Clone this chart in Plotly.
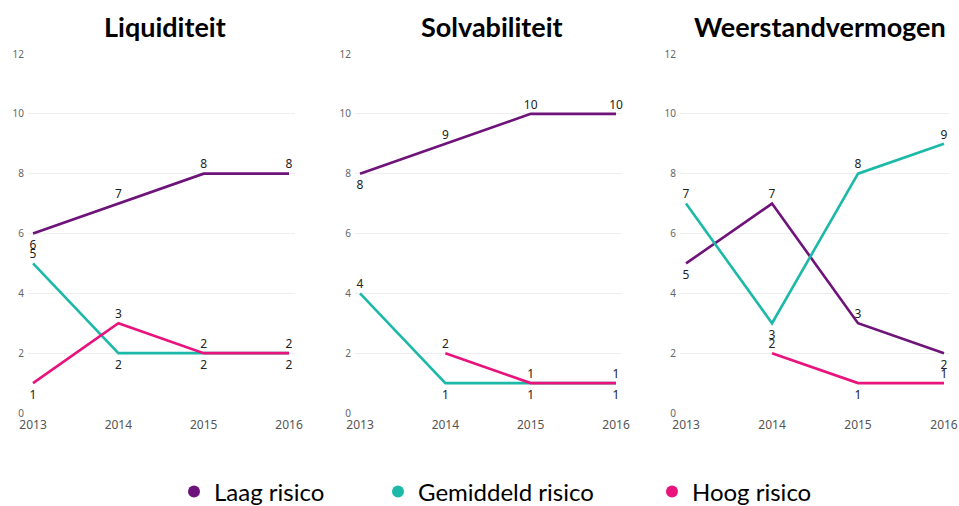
import plotly.graph_objects as go

years = [2013, 2014, 2015, 2016]
series_names = ["Laag risico", "Gemiddeld risico", "Hoog risico"]
panel_titles = ["Liquiditeit", "Solvabiliteit", "Weerstandvermogen"]

liq_laag = [6, 7, 8, 8]
liq_gem = [5, 2, 2, 2]
liq_hoog = [1, 3, 2, 2]

solv_laag = [8, 9, 10, 10]
solv_gem = [4, 1, 1, 1]
solv_hoog = [None, 2, 1, 1]

weer_laag = [5, 7, 3, 2]
weer_gem = [7, 3, 8, 9]
weer_hoog = [None, 2, 1, 1]

y_ticks = [0, 2, 4, 6, 8, 10, 12]

panels = [
    [liq_laag, liq_gem, liq_hoog],
    [solv_laag, solv_gem, solv_hoog],
    [weer_laag, weer_gem, weer_hoog],
]

# label placement (style)
T, B = "top center", "bottom center"
label_pos = [
    [[B, T, T, T], [T, B, B, B], [B, T, T, T]],
    [[B, T, T, T], [T, B, B, B], [T, T, T, T]],
    [[B, T, T, B], [T, B, T, T], [T, T, B, T]],
]

colors = ["#6E1379", "#1CB9A8", "#E8137C"]

W, H = 959, 506
x_px = [(28, 295), (355, 622), (680, 949)]
x_ranges = [(2012.941, 2016.07), (2012.941, 2016.07), (2012.93, 2016.058)]
y_px = (54, 413)
title_cx = [165, 492, 820]

fig = go.Figure()

for p, series in enumerate(panels):
    ax = "" if p == 0 else str(p + 1)
    for s, vals in enumerate(series):
        pos = label_pos[p][s]
        fig.add_trace(go.Scatter(
            x=years, y=vals,
            mode="lines+markers+text",
            text=["" if v is None else str(v) for v in vals],
            textposition=pos,
            textfont=dict(family="Noto Sans", size=12, color="#222222"),
            line=dict(color=colors[s], width=2.6),
            marker=dict(size=[2 if tp == T else 9 for tp in pos],
                        opacity=0, color=colors[s]),
            cliponaxis=False,
            showlegend=False,
            hoverinfo="skip",
            xaxis="x" + ax, yaxis="y" + ax,
        ))
    d = (x_px[p][0] / W, x_px[p][1] / W)
    fig.layout["xaxis" + ax] = dict(
        domain=list(d), range=list(x_ranges[p]), anchor="y" + ax,
        tickvals=years, ticktext=[str(y) for y in years],
        showgrid=False, zeroline=False, showline=False,
        tickfont=dict(family="Noto Sans", size=12, color="#555555"),
        ticks="", fixedrange=True, automargin=False, ticklabelstandoff=3,
    )
    fig.layout["yaxis" + ax] = dict(
        domain=[(H - y_px[1]) / H, (H - y_px[0]) / H], range=[0, 12],
        anchor="x" + ax, tickvals=y_ticks,
        showgrid=True, gridcolor="#EEEEEE", gridwidth=1,
        zeroline=False, showline=False,
        tickfont=dict(family="Noto Sans", size=10, color="#666666"),
        ticks="", fixedrange=True, automargin=False, ticklabelstandoff=3,
    )
    fig.add_annotation(
        text="<b>" + panel_titles[p] + "</b>", xref="paper", yref="paper",
        x=title_cx[p] / W, y=(H - 26) / H, xanchor="center", yanchor="middle",
        showarrow=False, font=dict(family="Lato", size=27, color="#000000"),
    )

legend_x = [174, 378, 652]
legend_keys = ["legend", "legend2", "legend3"]
for s, name in enumerate(series_names):
    fig.add_trace(go.Scatter(
        x=[None], y=[None], mode="markers", name=name,
        marker=dict(color=colors[s], size=12),
        legend=legend_keys[s], showlegend=True,
    ))
    fig.layout[legend_keys[s]] = dict(
        x=legend_x[s] / W, y=(H - 492) / H, xanchor="left", yanchor="middle",
        orientation="h", bgcolor="rgba(0,0,0,0)",
        font=dict(family="Lato", size=24, color="#000000"),
    )

fig.update_layout(
    width=W, height=H,
    margin=dict(l=0, r=0, t=0, b=0, autoexpand=False),
    paper_bgcolor="white", plot_bgcolor="white",
)

fig.write_html(
    "out.html",
    config={"displayModeBar": False},
    post_script="document.body.style.margin='0';document.body.style.overflow='hidden';",
)
